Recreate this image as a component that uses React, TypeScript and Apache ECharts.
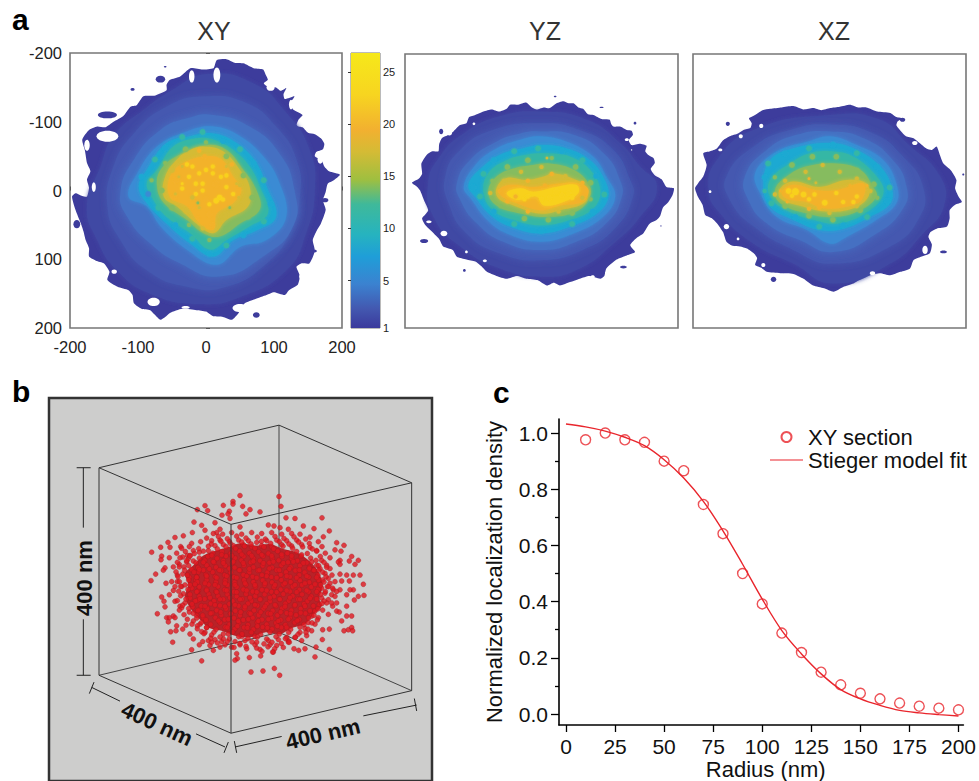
import React, { useEffect, useRef } from "react";
import * as echarts from "echarts";

const FONT = "Liberation Sans";

// ---------- panel a : contour levels (nm) ----------
const levelColors = ["#3d3c9c", "#414aa4", "#4459b0", "#4570c2", "#3a8bd4", "#1fa9d2", "#36b7a5", "#86bc5f", "#d4bb35", "#f3b22c", "#f8d11e"];

const xyOutline = [[30,-191],[42,-186],[55,-185],[70,-178],[84,-176],[88,-168],[91,-161],[85,-156],[89,-152],[103,-150],[110,-145],[118,-149],[114,-140],[116,-133],[130,-137],[124,-127],[128,-118],[142,-110],[136,-103],[133,-94],[142,-92],[150,-84],[160,-82],[169,-76],[174,-68],[172,-60],[162,-56],[160,-50],[170,-44],[174,-35],[181,-28],[197,-23],[188,-15],[179,-10],[176,2],[172,14],[176,28],[169,48],[163,58],[157,72],[160,88],[152,106],[140,106],[133,111],[138,124],[135,137],[122,145],[116,152],[100,148],[89,152],[72,158],[57,164],[48,178],[38,188],[25,184],[11,183],[0,176],[-14,174],[-35,172],[-53,178],[-60,184],[-67,188],[-76,180],[-82,174],[-95,172],[-106,164],[-108,152],[-114,145],[-130,140],[-145,130],[-142,118],[-150,106],[-162,102],[-172,96],[-172,84],[-177,72],[-180,60],[-184,48],[-192,28],[-197,9],[-192,4],[-182,8],[-175,9],[-172,-4],[-175,-16],[-170,-28],[-175,-40],[-178,-58],[-182,-74],[-172,-88],[-160,-93],[-148,-92],[-136,-100],[-122,-108],[-111,-122],[-102,-124],[-92,-137],[-76,-138],[-58,-146],[-58,-154],[-53,-161],[-38,-166],[-23,-178],[-5,-176],[11,-178],[14,-186],[16,-190]];
const xyRim3 = [[0,-169],[69,-156],[118,-113],[152,-60],[160,-1],[147,62],[118,116],[50,155],[-9,165],[-82,150],[-131,116],[-160,72],[-175,23],[-155,-35],[-136,-79],[-92,-117],[-48,-147]];
const xyRim5 = [[0,-137],[60,-127],[103,-93],[133,-45],[138,9],[123,62],[89,106],[30,140],[-28,140],[-87,116],[-126,72],[-145,23],[-136,-35],[-106,-83],[-58,-122]];
const xyRim7 = [[11,-110],[64,-93],[108,-54],[130,-1],[128,52],[84,96],[20,125],[-38,106],[-82,77],[-116,38],[-126,4],[-106,-45],[-67,-88],[-28,-105]];
const xyL8 = [[11,-93],[50,-79],[84,-50],[106,-16],[118,38],[89,72],[50,82],[16,108],[-28,86],[-67,52],[-87,23],[-114,9],[-101,-25],[-72,-64],[-28,-86]];
const xyL11 = [[11,-83],[45,-69],[74,-40],[89,-6],[103,38],[74,58],[40,72],[11,96],[-23,77],[-58,48],[-87,18],[-99,-6],[-87,-30],[-58,-69],[-23,-79]];
const xyL14 = [[11,-74],[40,-59],[64,-35],[79,-6],[91,33],[64,52],[30,72],[6,86],[-23,62],[-58,38],[-77,14],[-87,-11],[-72,-30],[-48,-64],[-14,-76]];
const xyL17 = [[1,-66],[30,-59],[55,-30],[74,-1],[79,28],[50,48],[20,67],[-4,62],[-28,43],[-62,18],[-72,-6],[-67,-30],[-43,-50]];
const xyL20 = [[-4,-64],[25,-57],[50,-30],[64,-6],[62,23],[30,43],[11,62],[-14,48],[-43,23],[-62,9],[-60,-20],[-43,-45],[-23,-59]];
const xyL23 = [[1,-50],[23,-45],[40,-20],[52,-1],[40,18],[16,33],[11,57],[-9,48],[-28,23],[-53,9],[-53,-20],[-33,-40]];
const xyHoles = [[-145,-79,16,8],[16,-168,5,11],[-21,-166,4,9],[-77,162,9,6],[50,171,11,6],[162,101,3,6],[-175,-66,4,8],[95,-150,6,5],[125,-125,3,7],[150,-95,6,4],[168,-45,4,6],[140,125,3,4],[-110,-132,4,3],[-135,118,4,3],[-30,170,6,2],[-165,-5,3,7]];
const xyIslands = [[-190,49,5,6],[-67,-162,7,5],[-108,-147,3,2],[-145,-110,14,5],[74,181,5,4],[-60,-180,2,1],[175,14,5,3],[160,88,3,2]];
const xySpots = [[-95,-20,4,5],[-85,5,4,4],[-75,-45,4,6],[-60,-62,4,5],[-35,-78,4,6],[-5,-85,4,6],[25,-72,4,5],[50,-60,4,6],[70,-40,4,5],[85,-15,4,6],[95,20,4,5],[85,45,4,6],[55,65,4,5],[30,80,4,6],[5,92,4,5],[-20,70,4,6],[-45,50,4,5],[-70,25,4,6],[-80,-15,3,7],[-60,-40,3,7],[-30,-60,4,7],[0,-70,3,7],[30,-50,4,7],[55,-22,4,7],[68,10,4,7],[62,38,4,7],[30,55,4,7],[5,72,3,7],[-25,50,3,7],[-50,25,4,7],[-65,0,4,7],[-50,-30,4,8],[-35,-48,3,8],[-10,-58,3,9],[10,-58,3,8],[38,-38,3,9],[50,-8,3,8],[55,18,3,8],[30,35,3,8],[-5,55,3,8],[-30,30,3,8],[-48,10,3,9],[-45,-15,3,9],[-28,-38,3,10],[15,-10,4,9],[-5,-10,3,10],[5,20,3,10],[-15,5,3,10],[30,-22,3,10],[-35,-10,2,10],[-12,40,2,9],[22,45,2,8],[40,5,3,10],[0,-30,3,10],[-10,-25,3,10],[-25,-20,3,10],[-20,-35,3,10],[10,-35,3,10],[10,-25,3,10],[22,-20,3,10],[30,-5,3,10],[20,10,4,10],[15,15,4,10],[25,13,3,10],[-5,0,3,10],[-15,-10,3,10],[-35,-3,3,10],[-10,25,2,8],[5,35,3,9],[10,50,3,9],[-45,5,2,8],[-20,10,3,8],[35,25,2,7],[-35,-35,2,8],[-12,18,2,7],[45,-10,2,8],[30,-35,2,8],[-40,-20,2,8],[0,12,3,9],[-22,25,2,9],[48,10,2,8],[-2,-50,3,9]];

const yzOutline = [[-46,-126],[-34,-126],[-22,-129],[-14,-122],[-7,-119],[3,-122],[12,-121],[22,-128],[32,-131],[40,-128],[47,-128],[54,-122],[61,-120],[68,-112],[76,-111],[88,-105],[100,-104],[102,-98],[105,-94],[115,-94],[125,-89],[132,-88],[134,-82],[128,-74],[132,-67],[144,-69],[154,-66],[152,-58],[156,-53],[164,-48],[166,-41],[160,-32],[166,-23],[176,-17],[183,-6],[194,-4],[192,6],[186,16],[178,24],[174,36],[169,42],[158,48],[149,62],[140,68],[130,79],[137,89],[125,94],[110,100],[95,113],[92,124],[86,128],[70,124],[56,128],[42,133],[27,138],[18,134],[8,138],[-6,130],[-22,128],[-36,124],[-51,128],[-66,124],[-80,118],[-88,110],[-97,103],[-110,100],[-124,96],[-130,86],[-144,81],[-150,70],[-163,57],[-170,50],[-175,40],[-170,34],[-166,28],[-172,14],[-178,-1],[-182,-6],[-190,-12],[-180,-18],[-175,-25],[-176,-40],[-168,-53],[-160,-58],[-151,-58],[-150,-68],[-146,-77],[-136,-82],[-129,-87],[-120,-96],[-110,-99],[-106,-108],[-97,-111],[-85,-116],[-73,-119],[-62,-116],[-51,-120]];
const yzRim3 = [[-2,-116],[66,-104],[115,-70],[144,-36],[169,-6],[144,38],[105,77],[56,113],[3,125],[-61,113],[-119,81],[-158,38],[-166,-11],[-149,-50],[-114,-84],[-61,-109]];
const yzRim5 = [[-2,-99],[56,-89],[105,-60],[130,-16],[134,8],[110,52],[61,86],[-2,101],[-61,91],[-110,62],[-136,18],[-141,-21],[-119,-60],[-71,-89]];
const yzRim7 = [[-2,-87],[47,-82],[91,-55],[115,-16],[117,11],[95,47],[51,74],[-2,86],[-56,74],[-95,47],[-119,13],[-124,-11],[-105,-45],[-66,-72],[-31,-84]];
const yzL8 = [[-2,-80],[37,-72],[76,-50],[95,-21],[108,8],[90,38],[47,62],[-2,74],[-51,62],[-80,42],[-102,13],[-114,-6],[-95,-40],[-66,-62],[-31,-75]];
const yzL11 = [[-2,-67],[37,-62],[71,-45],[90,-21],[98,8],[81,33],[42,52],[-2,62],[-46,52],[-75,35],[-95,11],[-107,-9],[-85,-36],[-56,-55],[-27,-62]];
const yzL14 = [[8,-55],[42,-50],[71,-31],[86,-1],[76,25],[42,42],[-2,50],[-41,42],[-71,28],[-85,3],[-78,-26],[-51,-45],[-22,-53]];
const yzL17 = [[12,-40],[47,-31],[69,-11],[71,8],[51,30],[8,38],[-31,33],[-66,21],[-78,1],[-66,-21],[-41,-33],[-12,-38]];
const yzL20 = [[17,-26],[51,-16],[66,-4],[64,16],[27,28],[-2,33],[-41,21],[-63,11],[-66,-4],[-51,-19],[-22,-16],[3,-21]];
const yzL23 = [[56,-11],[69,-1],[59,16],[27,21],[-2,28],[-36,18],[-58,8],[-63,-1],[-46,-9],[-12,-6],[27,-11]];
const yzL25 = [[51,-9],[54,3],[32,16],[3,21],[-7,8],[-36,13],[-51,3],[-31,-4],[-12,1],[22,-6]];
const yzHoles = [[-99,-98,2,2],[-143,62,5,4],[-110,89,2,2],[-83,102,3,2],[132,-60,1,1],[-165,45,4,2],[-135,-85,4,4],[-120,100,3,2],[125,-75,3,2],[150,75,5,3],[75,125,3,2],[95,120,2,2]];
const yzIslands = [[-172,73,6,3],[-147,-87,3,4],[20,-138,2,1],[88,-122,3,1],[137,-99,2,2],[-113,116,2,2],[120,111,5,2],[175,51,1,1]];
const yzSpots = [[-100,-5,4,5],[-85,-25,4,6],[-70,-45,4,5],[-40,-58,4,6],[-5,-62,4,6],[30,-58,4,5],[60,-45,4,6],[80,-22,4,5],[92,5,4,6],[75,30,4,5],[45,48,4,6],[0,58,4,5],[-40,48,4,6],[-70,30,4,5],[-90,8,4,6],[-72,-15,3,7],[-50,-35,4,7],[-20,-45,4,7],[15,-48,3,7],[50,-35,4,7],[72,-12,4,7],[72,12,3,7],[45,32,4,7],[10,42,4,7],[-25,40,4,7],[-60,22,3,7],[-75,3,3,8],[-55,-15,3,8],[-30,-28,3,8],[0,-35,3,8],[8,-48,2,8],[35,-22,3,8],[60,-12,3,9],[60,10,3,8],[25,30,3,8],[-20,30,3,9],[-50,15,3,9],[-62,0,2,9],[-20,-15,3,9],[15,-25,3,9],[5,-8,3,9],[40,3,3,10],[-25,12,3,10],[0,12,3,10],[45,10,3,10],[22,1,4,10],[30,6,3,10],[12,10,3,10],[-20,8,3,10],[-38,8,3,9]];

const xzOutline = [[-87,-120],[-70,-122],[-53,-124],[-38,-119],[-24,-121],[-12,-118],[1,-121],[15,-123],[30,-126],[42,-122],[54,-122],[70,-116],[89,-114],[98,-108],[108,-106],[100,-102],[98,-96],[104,-88],[112,-80],[123,-77],[132,-70],[142,-62],[150,-60],[157,-65],[162,-52],[167,-40],[178,-30],[186,-16],[184,-4],[189,8],[194,16],[184,20],[176,28],[176,40],[172,52],[157,55],[148,60],[145,67],[150,78],[147,91],[134,96],[123,101],[118,113],[104,118],[89,123],[74,120],[59,123],[46,128],[35,135],[20,140],[6,147],[-8,142],[-24,138],[-38,128],[-53,121],[-72,120],[-92,118],[-100,112],[-109,108],[-106,98],[-111,91],[-121,84],[-131,81],[-142,80],[-151,74],[-156,60],[-165,47],[-172,40],[-182,35],[-186,20],[-193,8],[-197,-4],[-192,-12],[-185,-21],[-180,-38],[-185,-55],[-175,-58],[-165,-62],[-156,-74],[-146,-80],[-134,-84],[-126,-89],[-116,-92],[-114,-99],[-118,-106],[-109,-111],[-98,-118]];
const xzRim3 = [[1,-111],[74,-104],[113,-70],[162,-21],[167,23],[137,62],[89,106],[6,135],[-53,106],[-111,77],[-160,33],[-177,-1],[-165,-45],[-111,-89]];
const xzRim5 = [[1,-97],[64,-84],[108,-50],[137,-6],[132,38],[89,81],[6,106],[-53,86],[-111,52],[-146,13],[-151,-21],[-111,-65],[-58,-89]];
const xzRim7 = [[1,-87],[50,-77],[93,-45],[113,-6],[108,25],[69,62],[6,89],[-43,72],[-92,47],[-119,13],[-124,-21],[-92,-60],[-48,-82]];
const xzL8 = [[1,-80],[40,-67],[79,-45],[98,-11],[98,18],[69,42],[25,67],[1,77],[-33,57],[-77,38],[-99,8],[-109,-26],[-77,-58],[-33,-72]];
const xzL11 = [[1,-70],[40,-60],[74,-36],[91,-6],[89,18],[59,38],[20,55],[-14,57],[-53,42],[-87,23],[-97,-6],[-87,-45],[-53,-62]];
const xzL14 = [[1,-58],[35,-50],[69,-21],[79,3],[59,28],[15,47],[-24,42],[-63,28],[-87,8],[-87,-16],[-58,-40],[-29,-55]];
const xzL17 = [[10,-40],[45,-31],[64,-6],[69,8],[45,28],[6,38],[-33,33],[-72,18],[-80,-1],[-63,-21],[-33,-36]];
const xzL20 = [[25,-16],[54,-11],[57,8],[35,25],[-4,30],[-38,23],[-72,11],[-72,-4],[-53,-14],[-14,-6]];
const xzL23 = [[50,-11],[47,13],[25,23],[-9,25],[-33,16],[-63,11],[-70,1],[-53,-9],[-19,-1],[10,-1]];
const xzHoles = [[-175,1,2,2],[-151,52,4,4],[-134,70,2,2],[-97,108,3,3],[63,120,4,3],[140,86,4,6],[-130,-80,3,3],[-160,-60,3,2],[125,-70,4,3],[-100,-95,3,3]];
const xzIslands = [[-149,-98,3,3],[-82,129,4,4],[107,-104,4,3],[167,89,5,2],[196,-24,1.5,1.5]];
const xzSpots = [[-95,-20,4,5],[-90,-40,4,6],[-65,-55,4,5],[-30,-62,4,6],[5,-68,4,5],[40,-55,4,6],[70,-35,4,5],[88,-5,4,6],[85,15,4,5],[55,38,4,6],[20,50,4,5],[-15,52,4,6],[-50,38,4,5],[-85,18,4,6],[-95,0,3,6],[-80,-20,3,7],[-55,-38,4,7],[-25,-50,4,7],[10,-50,4,7],[40,-30,4,7],[65,-10,4,7],[70,10,3,7],[45,28,4,7],[5,42,4,7],[-30,36,4,7],[-65,22,4,7],[-80,5,3,8],[-65,-15,3,8],[-35,-28,3,8],[-10,-38,3,8],[15,-28,3,8],[40,-18,3,8],[60,0,3,8],[40,22,3,8],[0,32,3,8],[-30,26,3,9],[-62,16,2,9],[-72,0,2,9],[-20,-12,2,8],[-30,-18,2,9],[30,-8,2,9],[55,-8,2,9],[20,16,3,10],[-15,24,3,9],[-30,12,3,10],[-60,0,4,10],[-55,7,3,10],[40,8,3,10],[-50,1,5,10],[-38,5,4,10],[-7,17,4,10],[35,16,3,10],[10,3,3,10],[-22,5,3,10]];

// ---------- colour bar ----------
const colorbarOffsets = [0, 0.15, 0.28, 0.36, 0.46, 0.55, 0.66, 0.74, 0.84, 0.93, 1];
const colorbarColors = ["#f6e81a", "#f7d520", "#f2b030", "#d4bb35", "#9fbf40", "#3fb99a", "#26b3bf", "#1f9ed8", "#3b82d0", "#4358b0", "#3b3a9c"];
const colorbarTicks = [0.45, 5, 10, 15, 20, 25];

// ---------- panel b : projected localisations ----------
const cubeBack = [[-123,571],[417,440],"-",[815,618],[417,440],"-",[417,-193],[417,440]];
const cubeFront = [[-123,-63],[417,-193],[815,-17],[273,110],[-123,-63],[-123,571],[273,748],[815,618],[815,-17],"-",[273,110],[273,748]];
const dimensionLines = [[-190,-63],[-148,-63],"-",[-170,-63],[-170,120],"-",[-170,400],[-170,571],"-",[-190,571],[-148,571],"-",[-138,592],[-152,627],"-",[-145,608],[-60,650],"-",[168,750],[255,790],"-",[265,775],[252,808],"-",[283,772],[290,808],"-",[285,790],[425,758],"-",[670,695],[830,662],"-",[823,642],[830,680]];
const coreOutline = [[270,178],[300,168],[345,175],[390,170],[430,185],[470,195],[500,215],[525,240],[540,265],[548,300],[538,335],[545,360],[520,385],[495,415],[460,425],[420,445],[375,440],[330,455],[285,450],[245,435],[205,425],[175,395],[150,365],[135,330],[145,295],[135,260],[160,235],[190,205],[230,190]];
const sparsePoints = [[300,22],[417,25],[423,55],[195,53],[250,52],[279,40],[279,48],[308,55],[330,65],[360,72],[172,65],[203,68],[268,70],[246,82],[264,78],[318,78],[270,92],[438,90],[465,92],[546,90],[162,103],[225,105],[185,113],[195,128],[240,125],[230,135],[300,118],[385,112],[402,115],[420,120],[445,125],[490,115],[522,123],[568,130],[157,135],[130,145],[105,150],[84,165],[62,180],[35,195],[122,178],[90,180],[550,148],[590,166],[612,174],[585,188],[603,192],[635,208],[655,220],[628,222],[645,232],[600,220],[595,225],[600,232],[660,265],[640,265],[620,265],[600,262],[576,265],[585,285],[605,283],[628,283],[670,293],[655,330],[672,327],[643,341],[620,325],[640,310],[630,310],[600,310],[580,310],[590,315],[570,290],[33,282],[47,262],[65,207],[88,212],[63,218],[75,243],[70,250],[78,290],[52,383],[65,332],[88,325],[100,312],[72,345],[75,362],[105,345],[120,360],[80,395],[88,395],[85,408],[100,390],[105,395],[110,420],[92,438],[108,435],[128,430],[138,418],[150,445],[98,470],[160,460],[155,493],[188,468],[178,478],[210,480],[220,495],[185,527],[290,505],[292,520],[285,525],[328,517],[362,512],[400,500],[333,561],[369,558],[403,550],[419,571],[445,465],[462,490],[476,495],[495,490],[525,515],[528,485],[547,462],[568,492],[612,435],[625,432],[635,425],[638,435],[620,390],[635,390],[605,405],[565,385],[568,430],[548,432],[590,375],[578,360],[598,378],[620,360],[565,340],[575,350],[118,232],[142,205],[112,265],[100,240],[140,225],[112,285],[125,300],[105,300],[95,285]];
const ringPoints = [[128,210],[145,215],[160,222],[132,240],[155,248],[175,255],[128,262],[148,272],[168,280],[135,295],[155,305],[175,312],[130,322],[150,335],[172,342],[135,350],[158,362],[180,370],[125,365],[148,378],[170,388],[190,395],[160,405],[180,415],[200,425],[172,420],[195,440],[215,448],[185,438],[205,465],[225,462],[245,468],[215,160],[240,158],[268,162],[296,158],[325,160],[350,165],[380,160],[410,158],[440,160],[470,158],[225,175],[250,172],[280,175],[310,172],[335,178],[365,175],[395,178],[425,172],[455,176],[485,172],[510,180],[530,190],[205,190],[178,195],[160,190],[150,205],[480,140],[455,138],[425,140],[395,135],[365,138],[335,135],[305,140],[275,135],[248,140],[220,138],[545,220],[560,235],[540,245],[555,260],[565,275],[548,280],[562,300],[545,305],[555,320],[575,325],[545,335],[560,350],[538,355],[525,375],[548,372],[515,390],[535,395],[505,410],[525,415],[495,428],[515,435],[480,440],[500,450],[465,455],[485,465],[445,470],[570,245],[578,305],[585,330],[590,350],[530,235],[520,250],[215,470],[240,485],[255,478],[275,485],[300,478],[320,490],[345,478],[360,492],[390,478],[410,480],[430,486],[250,460],[285,468],[315,465],[350,470],[385,465],[415,462],[440,455],[265,445],[345,452],[305,452]];
const corePoints = [[215,205],[245,203],[275,206],[305,202],[335,206],[365,203],[395,206],[425,202],[455,206],[485,203],[190,226],[220,224],[250,228],[280,224],[310,228],[340,223],[370,228],[400,224],[430,228],[460,224],[490,228],[515,225],[178,248],[208,246],[238,250],[268,245],[298,250],[328,246],[358,250],[388,245],[418,250],[448,246],[478,250],[508,245],[536,250],[170,272],[200,268],[230,273],[260,268],[290,273],[320,268],[350,273],[380,268],[410,273],[440,268],[470,273],[500,268],[530,272],[165,293],[195,290],[225,295],[255,290],[285,295],[315,290],[345,295],[375,290],[405,295],[435,290],[465,295],[495,290],[525,293],[170,316],[200,312],[230,317],[260,312],[290,317],[320,312],[350,317],[380,312],[410,317],[440,312],[470,317],[500,312],[530,316],[180,338],[210,334],[240,339],[270,334],[300,339],[330,334],[360,339],[390,334],[420,339],[450,334],[480,339],[510,336],[195,360],[225,356],[255,361],[285,356],[315,361],[345,356],[375,361],[405,356],[435,361],[465,356],[495,360],[212,382],[242,378],[272,383],[302,378],[332,383],[362,378],[392,383],[422,378],[452,383],[482,380],[235,404],[265,400],[295,405],[325,400],[355,405],[385,400],[415,405],[445,400],[472,404],[262,425],[292,421],[322,426],[352,421],[382,426],[412,421],[440,425]];
const densePoints = [
[200,152],[235,147],[262,154],[290,146],[318,152],[352,149],[376,155],[405,147],[432,153],[462,148],[497,155],[510,149],
[155,168],[182,163],[214,170],[243,162],[271,168],[305,164],[333,170],[364,162],[392,168],[418,163],[447,170],[476,164],[508,168],[535,163],
[125,183],[148,178],[176,184],[205,177],[232,185],[258,178],[287,184],[314,177],[345,183],[372,179],[401,185],[429,177],[458,183],[488,179],[517,185],[546,178],
[110,198],[136,193],[163,199],[190,192],[218,198],[246,193],[272,199],[299,192],[328,198],[356,194],[385,199],[413,192],[442,198],[470,193],[502,199],[530,192],[556,198],
[120,212],[150,207],[178,213],[204,208],[231,214],[258,207],[285,213],[311,208],[340,214],[369,207],[397,213],[426,208],[455,214],[483,207],[512,213],[541,208],[570,212],
[112,226],[140,221],[168,227],[194,220],[222,226],[250,221],[277,227],[304,220],[332,226],[360,221],[388,227],[416,220],[444,226],[472,221],[500,227],[528,220],[552,226],
[118,240],[146,236],[174,242],[200,235],[228,241],[256,236],[284,242],[312,235],[340,241],[368,236],[396,242],[424,235],[452,241],[480,236],[508,242],[536,236],[560,241],
[108,255],[134,250],[162,256],[190,250],[218,256],[244,251],[272,257],[300,250],[328,256],[354,251],[382,257],[410,250],[438,256],[466,251],[494,257],[522,250],[548,256],
[114,270],[142,265],[170,271],[198,264],[226,270],[254,265],[282,271],[310,264],[338,270],[366,265],[394,271],[422,264],[450,270],[478,265],[506,271],[534,265],[558,270],
[118,285],[146,280],[172,286],[200,280],[228,286],[256,281],[284,287],[312,280],[340,286],[368,281],[396,287],[424,280],[452,286],[480,281],[508,287],[536,280],[552,286],
[122,299],[150,295],[178,301],[206,294],[234,300],[262,295],[290,301],[318,294],[346,300],[374,295],[402,301],[430,294],[458,300],[486,295],[514,301],[542,295],[566,300],
[116,314],[144,309],[172,315],[200,309],[228,315],[254,310],[282,316],[310,309],[338,315],[366,310],[394,316],[422,309],[450,315],[478,310],[506,316],[534,309],[556,315],
[122,328],[150,324],[178,330],[206,323],[234,329],[262,324],[290,330],[318,323],[346,329],[374,324],[402,330],[430,323],[458,329],[486,324],[514,330],[542,324],
[112,343],[138,338],[166,344],[194,338],[222,344],[250,339],[278,345],[306,338],[334,344],[362,339],[390,345],[418,338],[446,344],[474,339],[502,345],[530,338],[552,344],
[128,357],[156,353],[184,359],[212,352],[240,358],[268,353],[296,359],[324,352],[352,358],[380,353],[408,359],[436,352],[464,358],[492,353],[520,359],[546,352],
[118,372],[146,367],[174,373],[202,367],[230,373],[258,368],[286,374],[314,367],[342,373],[370,368],[398,374],[426,367],[454,373],[482,368],[510,374],[534,368],
[132,386],[160,382],[188,388],[216,381],[244,387],[272,382],[300,388],[328,381],[356,387],[384,382],[412,388],[440,381],[468,387],[496,382],[522,388],
[142,400],[170,396],[198,402],[226,395],[254,401],[282,396],[310,402],[338,395],[366,401],[394,396],[422,402],[450,395],[478,401],[506,396],[532,402],
[156,415],[184,410],[212,416],[240,410],[268,416],[296,411],[324,417],[352,410],[380,416],[408,411],[436,417],[464,410],[492,416],[516,411],
[172,429],[200,425],[228,431],[256,424],[284,430],[312,425],[340,431],[368,424],[396,430],[424,425],[452,431],[480,424],[504,430],
[192,444],[222,439],[250,445],[278,439],[306,445],[334,440],[362,446],[390,439],[418,445],[446,440],[474,446],[498,440],
[212,458],[240,454],[268,460],[296,453],[324,459],[352,454],[380,460],[408,453],[436,459],[466,455],
[232,472],[262,468],[300,474],[336,469],[372,475],[396,470],[424,474],[448,470],
[282,486],[318,483],[350,488],[384,484],[404,490],[366,498],[398,500]
];

// ---------- panel c ----------
const radiusPoints = [10,20,30,40,50,60,70,80,90,100,110,120,130,140,150,160,170,180,190,200];
const sectionValues = [0.976,1.0,0.976,0.967,0.90,0.866,0.746,0.642,0.50,0.392,0.288,0.219,0.149,0.104,0.074,0.054,0.039,0.028,0.021,0.015];
const fitRadius = [0,10,20,30,40,50,60,70,80,90,100,110,120,130,140,150,160,170,180,190,200];
const fitValues = [1.032,1.022,1.007,0.985,0.955,0.905,0.84,0.757,0.652,0.533,0.409,0.297,0.214,0.143,0.087,0.054,0.031,0.013,0.004,-0.002,-0.007];
const radiusTicks = [0,25,50,75,100,125,150,175,200];
const densityTicks = [0,0.2,0.4,0.6,0.8,1.0];
const densityMinorTicks = [0.1,0.3,0.5,0.7,0.9];

const RED = "#e9252c";
const LINE_ICON = "path://M0 0L0.01 0L0 0ZM0 4.4L33 4.4L33 5.6L0 5.6ZM0 10L0.01 10L0 10Z";

type Item = { pts?: number[][]; ell?: number[]; color: string; blur?: number; smooth?: number };

function panelItems(contours: number[][][], holes: number[][], islands: number[][], spots: number[][]): Item[] {
  const items: Item[] = [];
  items.push({ pts: contours[0], color: levelColors[0], smooth: 0.2 });
  islands.forEach((e) => items.push({ ell: e, color: levelColors[0] }));
  contours.slice(1, 4).forEach((p, i) => items.push({ pts: p, color: levelColors[i + 1], blur: 4 + i * 3, smooth: 0.5 }));
  holes.forEach((e) => items.push({ ell: e, color: "#ffffff" }));
  contours.slice(4).forEach((p, i) => items.push({ pts: p, color: levelColors[i + 4], blur: 4, smooth: 0.4 }));
  spots.forEach((s) => items.push({ ell: [s[0], s[1], s[2], s[2]], color: levelColors[s[3]], blur: 2 }));
  return items;
}

function contourSeries(name: string, index: number, items: Item[]) {
  return {
    type: "custom",
    name,
    xAxisIndex: index,
    yAxisIndex: index,
    clip: true,
    silent: true,
    data: items.map((_, i) => [0, 0, i]),
    encode: { x: 0, y: 1 },
    renderItem: (params: any, api: any) => {
      const it = items[params.dataIndex];
      const style: any = { fill: it.color };
      if (it.blur) {
        style.shadowBlur = it.blur;
        style.shadowColor = it.color;
      }
      if (it.pts) {
        return { type: "polygon", shape: { points: it.pts.map((p) => api.coord(p)), smooth: it.smooth }, style };
      }
      const e = it.ell as number[];
      const c = api.coord([e[0], e[1]]);
      const s = api.size([e[2], e[3]]);
      return { type: "ellipse", shape: { cx: c[0], cy: c[1], rx: s[0], ry: s[1] }, style };
    },
  };
}

function heatAxisX(gridIndex: number, labelled: boolean) {
  return {
    type: "value", gridIndex, min: -200, max: 200, interval: 100, splitLine: { show: false },
    axisLine: { show: false },
    axisTick: { show: labelled, inside: true, length: 4, lineStyle: { color: "#555", width: 1 } },
    axisLabel: { show: labelled, fontFamily: FONT, fontSize: 16.5, color: "#222", margin: 10 },
  };
}
function heatAxisY(gridIndex: number, labelled: boolean) {
  return {
    type: "value", gridIndex, inverse: true, min: -200, max: 200, interval: 100, splitLine: { show: false },
    axisLine: { show: false },
    axisTick: { show: labelled, inside: true, length: 4, lineStyle: { color: "#555", width: 1 } },
    axisLabel: { show: labelled, fontFamily: FONT, fontSize: 16.5, color: "#222", margin: 8, padding: [6, 0, 0, 0] },
  };
}

const frame = { show: true, borderColor: "#777", borderWidth: 1.6, backgroundColor: "#fff" };
const letter = (text: string, left: number, top: number) => ({
  text, left, top, textStyle: { fontFamily: FONT, fontSize: 30, fontWeight: "bold", color: "#000" },
});
const heading = (text: string, left: number) => ({
  text, left, top: 13, textAlign: "center", textStyle: { fontFamily: FONT, fontSize: 25, fontWeight: "normal", color: "#333" },
});
const dimLabel = (x: number, y: number, rotation: number) => ({
  type: "text", x, y, rotation, z: 50,
  style: { text: "400 nm", fontFamily: FONT, fontSize: 22, fontWeight: "bold", fill: "#111", textAlign: "center", textVerticalAlign: "middle" },
});

export default function App() {
  const ref = useRef<HTMLDivElement>(null);
  useEffect(() => {
    if (!ref.current) return;
    const chart = echarts.init(ref.current, null, { renderer: "svg" });
    const xyItems = panelItems([xyOutline, xyRim3, xyRim5, xyRim7, xyL8, xyL11, xyL14, xyL17, xyL20, xyL23], xyHoles, xyIslands, xySpots);
    const yzItems = panelItems([yzOutline, yzRim3, yzRim5, yzRim7, yzL8, yzL11, yzL14, yzL17, yzL20, yzL23, yzL25], yzHoles, yzIslands, yzSpots);
    const xzItems = panelItems([xzOutline, xzRim3, xzRim5, xzRim7, xzL8, xzL11, xzL14, xzL17, xzL20, xzL23], xzHoles, xzIslands, xzSpots);
    chart.setOption({
      animation: false,
      backgroundColor: "#fff",
      title: [letter("a", 7, -1), letter("b", 7, 371), letter("c", 488, 372), heading("XY", 209), heading("YZ", 540), heading("XZ", 829)],
      legend: {
        left: 765, top: 421, orient: "vertical", itemGap: 1, itemWidth: 33, itemHeight: 10,
        data: [{ name: "XY section", icon: "circle" }, { name: "Stieger model fit", icon: LINE_ICON, itemStyle: { color: RED, borderWidth: 0 } }],
        selectedMode: false,
        textStyle: { fontFamily: FONT, fontSize: 22, color: "#111" },
      },
      grid: [
        { left: 70, top: 53, width: 272, height: 275, ...frame },
        { left: 405, top: 54, width: 273, height: 274, ...frame },
        { left: 693, top: 54, width: 273, height: 274, ...frame },
        { left: 351, top: 53, width: 29, height: 275, show: true, borderColor: "#777", borderWidth: 1 },
        { left: 49, top: 398, width: 383, height: 390, show: true, borderColor: "#333", borderWidth: 2.5, backgroundColor: "#cdcdcc" },
        { left: 559, top: 419, width: 405, height: 307 },
      ],
      xAxis: [
        heatAxisX(0, true), heatAxisX(1, false), heatAxisX(2, false),
        { type: "value", gridIndex: 3, min: 0, max: 1, show: false },
        { type: "value", gridIndex: 4, min: -273, max: 876, show: false },
        {
          type: "value", gridIndex: 5, min: -3.56, max: 202.5, name: "Radius (nm)", nameLocation: "middle", nameGap: 33,
          nameTextStyle: { fontFamily: FONT, fontSize: 22, color: "#111", padding: [0, 0, 0, 9] },
          splitLine: { show: false },
          axisLine: { onZero: false, lineStyle: { color: "#000", width: 1.6 } },
          axisTick: { customValues: radiusTicks, length: 7, lineStyle: { color: "#000", width: 1.3 } },
          axisLabel: { customValues: radiusTicks, fontFamily: FONT, fontSize: 21, color: "#111", margin: 11 },
        },
      ],
      yAxis: [
        heatAxisY(0, true), heatAxisY(1, false), heatAxisY(2, false),
        {
          type: "value", gridIndex: 3, position: "right", min: 0.45, max: 26.8, splitLine: { show: false },
          axisLine: { show: false },
          axisTick: { customValues: colorbarTicks.slice(1), inside: true, length: 3, lineStyle: { color: "#333", width: 1 } },
          axisLabel: {
            customValues: colorbarTicks, fontFamily: FONT, fontSize: 11, color: "#222", margin: 3,
            formatter: (v: number) => (v < 1 ? "1" : String(v)),
          },
        },
        { type: "value", gridIndex: 4, inverse: true, min: -276, max: 894, show: false },
        {
          type: "value", gridIndex: 5, min: -0.039, max: 1.05, name: "Normalized localization density", nameLocation: "middle", nameGap: 54,
          nameTextStyle: { fontFamily: FONT, fontSize: 22, color: "#111" },
          splitLine: { show: false },
          axisLine: { onZero: false, lineStyle: { color: "#000", width: 1.6 } },
          axisTick: { customValues: densityTicks, length: 8, lineStyle: { color: "#000", width: 1.3 } },
          axisLabel: { customValues: densityTicks, fontFamily: FONT, fontSize: 21, color: "#111", margin: 11, formatter: (v: number) => v.toFixed(1) },
        },
        {
          type: "value", gridIndex: 5, position: "left", min: -0.039, max: 1.05, splitLine: { show: false },
          axisLine: { show: false, onZero: false },
          axisTick: { customValues: densityMinorTicks, length: 4, lineStyle: { color: "#000", width: 1.3 } },
          axisLabel: { show: false },
        },
      ],
      series: [
        contourSeries("XY density", 0, xyItems),
        contourSeries("YZ density", 1, yzItems),
        contourSeries("XZ density", 2, xzItems),
        {
          type: "custom", name: "Colour scale", xAxisIndex: 3, yAxisIndex: 3, silent: true, data: [[0, 26.8]],
          renderItem: (_: any, api: any) => {
            const a = api.coord([0, 26.8]);
            const b = api.coord([1, 0.45]);
            return {
              type: "rect",
              shape: { x: a[0], y: a[1], width: b[0] - a[0], height: b[1] - a[1] },
              style: { fill: new echarts.graphic.LinearGradient(0, 0, 0, 1, colorbarOffsets.map((offset, i) => ({ offset, color: colorbarColors[i] }))) },
            };
          },
        },
        {
          type: "line", name: "Cube back", xAxisIndex: 4, yAxisIndex: 4, data: cubeBack, symbol: "none", silent: true,
          lineStyle: { color: "#444", width: 1 }, z: 2,
        },
        {
          type: "custom", name: "Localization core", xAxisIndex: 4, yAxisIndex: 4, silent: true, data: [[350, 310]], z: 3,
          renderItem: (_: any, api: any) => ({
            type: "polygon",
            shape: { points: coreOutline.map((p) => api.coord(p)), smooth: 0.3 },
            style: { fill: "#b92228" },
          }),
        },
        {
          type: "scatter", name: "Localizations", xAxisIndex: 4, yAxisIndex: 4, data: [...sparsePoints, ...ringPoints, ...densePoints, ...corePoints], symbolSize: 5, silent: true, z: 4,
          itemStyle: { color: "#e0181f", borderColor: "#9c1a1e", borderWidth: 0.4 },
        },
        {
          type: "line", name: "Cube front", xAxisIndex: 4, yAxisIndex: 4, data: cubeFront, symbol: "none", silent: true,
          lineStyle: { color: "#333", width: 1 }, z: 5,
        },
        {
          type: "line", name: "Scale bars", xAxisIndex: 4, yAxisIndex: 4, data: dimensionLines, symbol: "none", silent: true,
          lineStyle: { color: "#222", width: 1 }, z: 5,
        },
        {
          type: "line", name: "Stieger model fit", xAxisIndex: 5, yAxisIndex: 5, data: fitRadius.map((r, i) => [r, fitValues[i]]),
          symbol: "none", smooth: 0.35, lineStyle: { color: RED, width: 1.4 }, itemStyle: { color: RED }, z: 3,
        },
        {
          type: "scatter", name: "XY section", xAxisIndex: 5, yAxisIndex: 5, data: radiusPoints.map((r, i) => [r, sectionValues[i]]),
          symbol: "circle", symbolSize: 10, itemStyle: { color: "transparent", borderColor: RED, borderWidth: 1.4 }, z: 4,
        },
      ],
      graphic: [dimLabel(84, 578, Math.PI / 2), dimLabel(157, 724, -0.43), dimLabel(323, 734, 0.225)],
    });
    return () => chart.dispose();
  }, []);
  return <div ref={ref} style={{ position: "absolute", left: 0, top: 0, width: 979, height: 781 }} />;
}
